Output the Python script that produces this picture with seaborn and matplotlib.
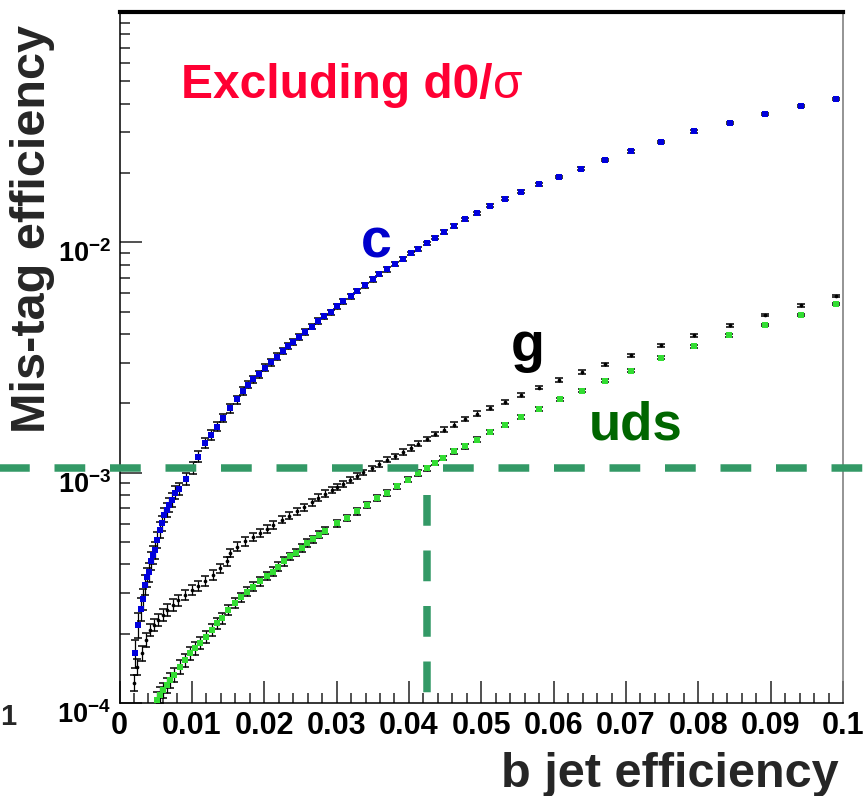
import numpy as np
import pandas as pd
import matplotlib
matplotlib.use("Agg")
import matplotlib.pyplot as plt
import matplotlib.transforms as mtransforms
from matplotlib.ticker import FixedLocator, LogLocator, MultipleLocator, NullFormatter
import seaborn as sns

# 1. DATA
c_beff = [0.00214, 0.00260, 0.00293, 0.00320, 0.00352, 0.00376, 0.00407, 0.00431, 0.00467, 0.00490,
          0.00522, 0.00559, 0.00583, 0.00615, 0.00652, 0.00688, 0.00721, 0.00767, 0.00826, 0.00919,
          0.01011, 0.01088, 0.01181, 0.01260, 0.01343, 0.01434, 0.01526, 0.01619, 0.01702, 0.01779,
          0.01848, 0.01931, 0.02010, 0.02088, 0.02171, 0.02254, 0.02331, 0.02401, 0.02483, 0.02562,
          0.02655, 0.02746, 0.02825, 0.02917, 0.03008, 0.03091, 0.03193, 0.03285, 0.03391, 0.03497,
          0.03588, 0.03699, 0.03805, 0.03912, 0.04022, 0.04127, 0.04243, 0.04358, 0.04482, 0.04620,
          0.04768, 0.04934, 0.05117, 0.05334, 0.05555, 0.05798, 0.06080, 0.06384, 0.06716, 0.07075,
          0.07489, 0.07939, 0.08432, 0.08925, 0.09423, 0.09906]
c_mistag = [1.65e-4, 2.18e-4, 2.56e-4, 2.83e-4, 3.26e-4, 3.53e-4, 3.71e-4, 4.14e-4, 4.40e-4, 4.63e-4,
            5.11e-4, 5.65e-4, 6.06e-4, 6.57e-4, 6.90e-4, 7.25e-4, 7.63e-4, 8.19e-4, 8.52e-4, 9.42e-4,
            1.051e-3, 1.174e-3, 1.35e-3, 1.46e-3, 1.585e-3, 1.73e-3, 1.90e-3, 2.08e-3, 2.26e-3, 2.41e-3,
            2.54e-3, 2.67e-3, 2.86e-3, 3.01e-3, 3.19e-3, 3.37e-3, 3.54e-3, 3.69e-3, 3.89e-3, 4.07e-3,
            4.31e-3, 4.55e-3, 4.78e-3, 4.98e-3, 5.27e-3, 5.56e-3, 5.84e-3, 6.14e-3, 6.50e-3, 6.90e-3,
            7.31e-3, 7.63e-3, 8.02e-3, 8.43e-3, 8.95e-3, 9.39e-3, 9.90e-3, 1.048e-2, 1.108e-2, 1.177e-2,
            1.259e-2, 1.337e-2, 1.439e-2, 1.549e-2, 1.661e-2, 1.787e-2, 1.923e-2, 2.091e-2, 2.273e-2, 2.480e-2,
            2.73e-2, 3.03e-2, 3.29e-2, 3.61e-2, 3.91e-2, 4.20e-2]

g_beff = [0.00200, 0.00246, 0.00307, 0.00366, 0.00421, 0.00477, 0.00536, 0.00597, 0.00660, 0.00735,
          0.00812, 0.00905, 0.00997, 0.01088, 0.01181, 0.01287, 0.01388, 0.01481, 0.01526, 0.01619,
          0.01733, 0.01840, 0.01941, 0.02033, 0.02124, 0.02240, 0.02345, 0.02448, 0.02548, 0.02655,
          0.02746, 0.02838, 0.02931, 0.03000, 0.03091, 0.03184, 0.03276, 0.03367, 0.03483, 0.03588,
          0.03699, 0.03805, 0.03912, 0.04022, 0.04127, 0.04243, 0.04358, 0.04486, 0.04620, 0.04772,
          0.04934, 0.05127, 0.05334, 0.05555, 0.05798, 0.06075, 0.06388, 0.06716, 0.07075, 0.07479,
          0.07939, 0.08432, 0.08925, 0.09423, 0.09906]
g_mistag = [1.225e-4, 1.439e-4, 1.644e-4, 1.879e-4, 2.077e-4, 2.18e-4, 2.296e-4, 2.414e-4, 2.537e-4, 2.667e-4,
            2.80e-4, 2.949e-4, 3.10e-4, 3.227e-4, 3.40e-4, 3.60e-4, 3.85e-4, 4.12e-4, 4.48e-4, 4.78e-4,
            5.03e-4, 5.28e-4, 5.47e-4, 5.69e-4, 5.94e-4, 6.25e-4, 6.50e-4, 6.79e-4, 7.09e-4, 7.43e-4,
            7.80e-4, 8.12e-4, 8.44e-4, 8.67e-4, 8.96e-4, 9.26e-4, 9.64e-4, 1.003e-3, 1.044e-3, 1.091e-3,
            1.139e-3, 1.178e-3, 1.230e-3, 1.281e-3, 1.337e-3, 1.401e-3, 1.473e-3, 1.538e-3, 1.617e-3, 1.712e-3,
            1.805e-3, 1.904e-3, 2.036e-3, 2.177e-3, 2.342e-3, 2.519e-3, 2.73e-3, 2.95e-3, 3.24e-3, 3.58e-3,
            3.95e-3, 4.37e-3, 4.83e-3, 5.32e-3, 5.84e-3]

uds_beff = [0.00514, 0.00559, 0.00605, 0.00652, 0.00698, 0.00757, 0.00836, 0.00905, 0.00974, 0.01043,
            0.01112, 0.01195, 0.01273, 0.01343, 0.01412, 0.01503, 0.01595, 0.01674, 0.01757, 0.01848,
            0.01941, 0.02033, 0.02116, 0.02193, 0.02272, 0.02355, 0.02434, 0.02517, 0.02594, 0.02677,
            0.02760, 0.02838, 0.03000, 0.03138, 0.03276, 0.03414, 0.03552, 0.03691, 0.03829, 0.03989,
            0.04127, 0.04243, 0.04358, 0.04472, 0.04620, 0.04772, 0.04934, 0.05127, 0.05334, 0.05555,
            0.05798, 0.06084, 0.06388, 0.06716, 0.07075, 0.07479, 0.07939, 0.08423, 0.08925, 0.09423,
            0.09906]
uds_mistag = [1.03e-4, 1.083e-4, 1.139e-4, 1.197e-4, 1.259e-4, 1.324e-4, 1.439e-4, 1.538e-4, 1.644e-4, 1.729e-4,
              1.818e-4, 1.942e-4, 2.077e-4, 2.22e-4, 2.335e-4, 2.537e-4, 2.713e-4, 2.88e-4, 3.047e-4, 3.205e-4,
              3.37e-4, 3.567e-4, 3.724e-4, 3.914e-4, 4.12e-4, 4.33e-4, 4.50e-4, 4.71e-4, 4.95e-4, 5.15e-4,
              5.38e-4, 5.61e-4, 6.04e-4, 6.35e-4, 6.79e-4, 7.26e-4, 7.76e-4, 8.16e-4, 8.72e-4, 9.32e-4,
              9.97e-4, 1.048e-3, 1.102e-3, 1.158e-3, 1.237e-3, 1.301e-3, 1.392e-3, 1.497e-3, 1.617e-3, 1.739e-3,
              1.892e-3, 2.08e-3, 2.273e-3, 2.512e-3, 2.777e-3, 3.162e-3, 3.54e-3, 3.95e-3, 4.37e-3, 4.83e-3,
              5.38e-3]

# jets per sample, only used for the binomial error bars
n_jets = {"c": 3e5, "g": 1.2e6, "uds": 1.5e6}

# working point: 1e-3 mis-tag line and matching b efficiency
cut_mistag = 1.051e-3
cut_beff = 0.04243

x_ticks = [0, 0.01, 0.02, 0.03, 0.04, 0.05, 0.06, 0.07, 0.08, 0.09, 0.1]
x_tick_labels = ["0", "0.01", "0.02", "0.03", "0.04", "0.05", "0.06", "0.07", "0.08", "0.09", "0.1"]
y_ticks = [1e-4, 1e-3, 1e-2]
y_tick_labels = [r"$10^{-4}$", r"$10^{-3}$", r"$10^{-2}$"]

frames = []
for name, xs, ys in [("c", c_beff, c_mistag), ("g", g_beff, g_mistag), ("uds", uds_beff, uds_mistag)]:
    d = pd.DataFrame({"beff": xs, "mistag": ys})
    d["flavour"] = name
    d["err"] = np.sqrt(d["mistag"] * (1 - d["mistag"]) / n_jets[name])
    frames.append(d)
df = pd.concat(frames, ignore_index=True)

# 2. STYLE
sns.set_theme(style="ticks")
plt.rcParams["font.family"] = ["Liberation Sans", "DejaVu Sans"]
plt.rcParams["mathtext.fontset"] = "custom"
plt.rcParams["mathtext.rm"] = "Liberation Sans:bold"
plt.rcParams["mathtext.default"] = "rm"

fig = plt.figure(figsize=(8.65, 7.96), dpi=100)
ax = fig.add_axes([0.1382, 0.1168, 0.8364, 0.8681])
ax.set_yscale("log")

marker_style = {
    "c": dict(color="#0000dd", marker="s", s=24),
    "g": dict(color="black", marker="o", s=7),
    "uds": dict(color="#33dd33", marker="s", s=14),
}
for name, sub in df.groupby("flavour", sort=False):
    ax.errorbar(sub["beff"], sub["mistag"], yerr=sub["err"], fmt="none",
                ecolor="black", elinewidth=0.9, capsize=3.0, capthick=1.1, zorder=2)
    sns.scatterplot(data=sub, x="beff", y="mistag", linewidth=0, ax=ax, zorder=3,
                    **marker_style[name])

ax.set_xlim(0, 0.1)
ax.set_ylim(1e-4, 1e-1)
ax.set_xlabel("")
ax.set_ylabel("")

ax.set_xticks(x_ticks)
ax.set_xticklabels(x_tick_labels, fontweight="bold")
ax.xaxis.set_minor_locator(MultipleLocator(0.002))
ax.yaxis.set_major_locator(FixedLocator([1e-4, 1e-3, 1e-2, 1e-1]))
ax.yaxis.set_minor_locator(LogLocator(base=10, subs=np.arange(2, 10)))
ax.yaxis.set_major_formatter(NullFormatter())
ax.yaxis.set_minor_formatter(NullFormatter())
ax.tick_params(which="both", direction="in", top=False, right=False, color="#222222")
ax.tick_params(which="major", length=16, width=1.1)
ax.tick_params(which="minor", length=7.5, width=1.1)
ax.tick_params(axis="x", labelsize=22, pad=6, labelcolor="black")

ylab_tr = ax.get_yaxis_transform() + mtransforms.ScaledTranslation(-0.085, -0.20, fig.dpi_scale_trans)
for val, lab in zip(y_ticks, y_tick_labels):
    ax.text(0, val, lab, transform=ylab_tr, ha="right", va="baseline", fontsize=19.5, color="black")

for side in ["left", "bottom"]:
    ax.spines[side].set_linewidth(1.1)
    ax.spines[side].set_color("black")
ax.spines["top"].set_linewidth(3)
ax.spines["top"].set_color("black")
ax.spines["right"].set_linewidth(1.1)
ax.spines["right"].set_color("#777777")

# working point lines
dash = (0, (4.1, 3.3))
ax.plot([-0.01747, 0.1037], [cut_mistag, cut_mistag], color="#339966", lw=5.4,
        linestyle=dash, clip_on=False, zorder=6)
ax.plot([cut_beff, cut_beff], [8.0e-4, 1e-4], color="#339966", lw=5.4,
        linestyle=dash, zorder=6)

# labels
t = ax.text(0.0085, 4.23e-2, "Excluding d0/", color="#ff0033", fontsize=34.5,
            fontweight="bold", ha="left", va="baseline")
ax.annotate("σ", xy=(1, 0), xycoords=t, ha="left", va="bottom",
            fontsize=34.5, color="#ff0033")
ax.text(0.0334, 8.61e-3, "c", color="#0000cc", fontsize=40, fontweight="bold", va="baseline")
ax.text(0.0541, 3.04e-3, "g", color="black", fontsize=40, fontweight="bold", va="baseline")
ax.text(0.0648, 1.392e-3, "uds", color="#006600", fontsize=38, fontweight="bold", va="baseline")

fig.text(0.774, 0.0113, "b jet efficiency", ha="center", va="baseline",
         fontsize=35, fontweight="bold")
fig.text(0.038, 0.712, "Mis-tag efficiency", ha="center", va="center", rotation=90,
         fontsize=35, fontweight="bold")
fig.text(0.0, 1 - 725 / 796, "1", ha="left", va="baseline", fontsize=21, fontweight="bold")

fig.savefig("out.png", dpi=100)
